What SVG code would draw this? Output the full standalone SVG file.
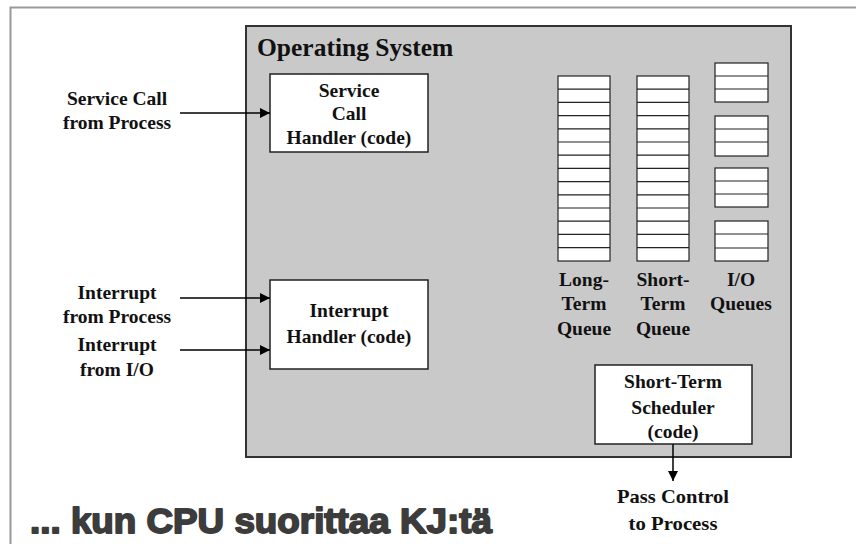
<svg xmlns="http://www.w3.org/2000/svg" width="856" height="544" viewBox="0 0 856 544">
  <defs>
    <marker id="arrow" viewBox="0 0 10 10" refX="10" refY="5" markerWidth="10" markerHeight="10" markerUnits="userSpaceOnUse" orient="auto">
      <path d="M0,0 L10,5 L0,10 z" fill="#000"/>
    </marker>
    <style>
      .t { font-family: "Liberation Serif", "Times New Roman", serif; font-weight: bold; font-size: 19.5px; fill: #111; text-anchor: middle; }
      .box { fill: #fff; stroke: #222; stroke-width: 1.5; }
      .slot { fill: #fff; stroke: #222; stroke-width: 1.2; }
      .wire { stroke: #000; stroke-width: 1.5; fill: none; }
    </style>
  </defs>

  <!-- page frame -->
  <rect x="0" y="0" width="856" height="544" fill="#fff"/>
  <path d="M10.5,544 V7.5 H856" fill="none" stroke="#999" stroke-width="2"/>

  <!-- operating system region -->
  <g id="os">
    <rect x="246" y="26" width="545" height="431" fill="#c9c9c9" stroke="#333" stroke-width="2"/>
    <text x="257" y="56" font-family="Liberation Serif, serif" font-weight="bold" font-size="25.5" fill="#111">Operating System</text>
  </g>

  <g id="service-call-handler">
    <rect class="box" x="270" y="74" width="158" height="78"/>
    <text class="t" x="349" y="97">Service</text>
    <text class="t" x="349" y="120">Call</text>
    <text class="t" x="349" y="144">Handler (code)</text>
  </g>

  <g id="interrupt-handler">
    <rect class="box" x="270" y="280" width="158" height="89"/>
    <text class="t" x="349" y="317">Interrupt</text>
    <text class="t" x="349" y="343">Handler (code)</text>
  </g>

  <g id="long-term-queue">
    <rect class="slot" x="558" y="76" width="52" height="185"/>
    <path class="slot" d="M558,89.2H610M558,102.4H610M558,115.6H610M558,128.8H610M558,142H610M558,155.2H610M558,168.4H610M558,181.6H610M558,194.8H610M558,208H610M558,221.2H610M558,234.4H610M558,247.6H610"/>
    <text class="t" x="584" y="286">Long-</text>
    <text class="t" x="584" y="310">Term</text>
    <text class="t" x="584" y="335">Queue</text>
  </g>

  <g id="short-term-queue">
    <rect class="slot" x="637" y="76" width="52" height="185"/>
    <path class="slot" d="M637,89.2H689M637,102.4H689M637,115.6H689M637,128.8H689M637,142H689M637,155.2H689M637,168.4H689M637,181.6H689M637,194.8H689M637,208H689M637,221.2H689M637,234.4H689M637,247.6H689"/>
    <text class="t" x="663" y="286">Short-</text>
    <text class="t" x="663" y="310">Term</text>
    <text class="t" x="663" y="335">Queue</text>
  </g>

  <g id="io-queues">
    <rect class="slot" x="715" y="63" width="53" height="39"/>
    <path class="slot" d="M715,76H768M715,89H768"/>
    <rect class="slot" x="715" y="116" width="53" height="40"/>
    <path class="slot" d="M715,129H768M715,142H768"/>
    <rect class="slot" x="715" y="168" width="53" height="39"/>
    <path class="slot" d="M715,181H768M715,194H768"/>
    <rect class="slot" x="715" y="221" width="53" height="40"/>
    <path class="slot" d="M715,234H768M715,248H768"/>
    <text class="t" x="741" y="286">I/O</text>
    <text class="t" x="741" y="310">Queues</text>
  </g>

  <g id="short-term-scheduler">
    <rect class="box" x="595" y="365" width="157" height="79"/>
    <text class="t" x="673" y="388">Short-Term</text>
    <text class="t" x="673" y="414">Scheduler</text>
    <text class="t" x="673" y="438">(code)</text>
  </g>

  <!-- external sources and targets -->
  <g id="service-call-source">
    <text class="t" x="117" y="105">Service Call</text>
    <text class="t" x="117" y="129">from Process</text>
  </g>
  <g id="process-interrupt-source">
    <text class="t" x="117" y="299">Interrupt</text>
    <text class="t" x="117" y="323">from Process</text>
  </g>
  <g id="io-interrupt-source">
    <text class="t" x="117" y="351">Interrupt</text>
    <text class="t" x="117" y="376">from I/O</text>
  </g>
  <g id="pass-control">
    <text class="t" x="673" y="503" textLength="112" lengthAdjust="spacingAndGlyphs">Pass Control</text>
    <text class="t" x="673" y="530" textLength="89" lengthAdjust="spacingAndGlyphs">to Process</text>
  </g>

  <g id="connectors">
    <path class="wire" d="M180,113H270" marker-end="url(#arrow)"/>
    <path class="wire" d="M180,298H270" marker-end="url(#arrow)"/>
    <path class="wire" d="M180,350H270" marker-end="url(#arrow)"/>
    <path class="wire" d="M673,444V481" marker-end="url(#arrow)"/>
  </g>

  <text x="30" y="533" font-family="Liberation Sans, Arial, sans-serif" font-weight="bold" font-size="35" fill="#3c3c3c" stroke="#3c3c3c" stroke-width="1.8" stroke-linejoin="round" textLength="462" lengthAdjust="spacingAndGlyphs">... kun CPU suorittaa KJ:tä</text>
</svg>
